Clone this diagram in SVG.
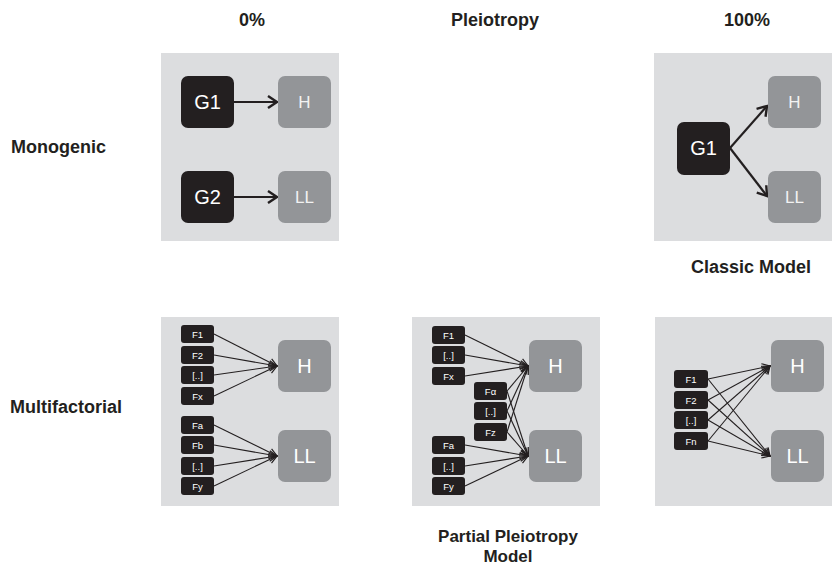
<svg xmlns="http://www.w3.org/2000/svg" width="832" height="568" viewBox="0 0 832 568">
<style>
.bg{fill:#ffffff}
.panel{fill:#dcdddf}
.dark{fill:#231f20}
.grey{fill:#939598}
.lbl{font-family:"Liberation Sans",Arial,sans-serif;font-weight:bold;font-size:18px;fill:#231f20}
.lbl2{font-family:"Liberation Sans",Arial,sans-serif;font-weight:bold;font-size:17px;fill:#231f20;text-anchor:middle}
.big{font-family:"Liberation Sans",Arial,sans-serif;font-size:20px;fill:#ffffff;text-anchor:middle}
.mid{font-family:"Liberation Sans",Arial,sans-serif;font-size:17px;fill:#f2f2f2;text-anchor:middle}
.sm{font-family:"Liberation Sans",Arial,sans-serif;font-size:9.5px;fill:#ffffff;text-anchor:middle}
.ct{text-anchor:middle}
.a1{stroke:#231f20;stroke-width:2.2;fill:none;marker-end:url(#ah1)}
.a2{stroke:#231f20;stroke-width:1.1;fill:none;marker-end:url(#ah2)}
</style>
<defs>
<marker id="ah1" markerUnits="userSpaceOnUse" markerWidth="14" markerHeight="16" viewBox="0 0 14 16" refX="11" refY="8" orient="auto">
<path d="M2,2 L11,8 L2,14" fill="none" stroke="#231f20" stroke-width="2.4" stroke-linejoin="miter"/>
</marker>
<marker id="ah2" markerUnits="userSpaceOnUse" markerWidth="12" markerHeight="12" viewBox="0 0 12 12" refX="10" refY="6" orient="auto">
<path d="M2,2 L10,6 L2,10" fill="none" stroke="#231f20" stroke-width="1.2"/>
</marker>
</defs>
<rect class="bg" x="0" y="0" width="832" height="568"/>

<g id="labels">
<text class="lbl ct" x="252" y="26">0%</text>
<text class="lbl ct" x="495" y="26">Pleiotropy</text>
<text class="lbl ct" x="747" y="26">100%</text>
<text class="lbl" x="11" y="153">Monogenic</text>
<text class="lbl" x="10" y="413">Multifactorial</text>
<text class="lbl ct" x="751" y="273">Classic Model</text>
<text class="lbl2" x="508" y="542">Partial Pleiotropy</text>
<text class="lbl2" x="508" y="562">Model</text>
</g>

<g id="panels">
<rect class="panel" x="161" y="53" width="178" height="188"/>
<rect class="panel" x="654" y="53" width="178" height="188"/>
<rect class="panel" x="161" y="317" width="178" height="189"/>
<rect class="panel" x="412" y="317" width="188" height="189"/>
<rect class="panel" x="655" y="317" width="177" height="189"/>
</g>

<g id="connectors">
<line class="a1" x1="234" y1="102" x2="277" y2="102"/>
<line class="a1" x1="234" y1="197" x2="277" y2="197"/>
<line class="a1" x1="730" y1="148" x2="767" y2="106"/>
<line class="a1" x1="730" y1="148" x2="767" y2="196"/>

<line class="a2" x1="214" y1="334" x2="277" y2="366"/>
<line class="a2" x1="214" y1="355" x2="277" y2="366"/>
<line class="a2" x1="214" y1="375" x2="277" y2="366"/>
<line class="a2" x1="214" y1="396" x2="277" y2="366"/>
<line class="a2" x1="214" y1="425" x2="277" y2="456"/>
<line class="a2" x1="214" y1="445" x2="277" y2="456"/>
<line class="a2" x1="214" y1="466" x2="277" y2="456"/>
<line class="a2" x1="214" y1="486" x2="277" y2="456"/>

<line class="a2" x1="465" y1="335" x2="528" y2="366"/>
<line class="a2" x1="465" y1="355" x2="528" y2="366"/>
<line class="a2" x1="465" y1="376" x2="528" y2="366"/>
<line class="a2" x1="507" y1="391" x2="528" y2="366"/>
<line class="a2" x1="507" y1="411" x2="528" y2="366"/>
<line class="a2" x1="507" y1="432" x2="528" y2="366"/>
<line class="a2" x1="507" y1="391" x2="528" y2="456"/>
<line class="a2" x1="507" y1="411" x2="528" y2="456"/>
<line class="a2" x1="507" y1="432" x2="528" y2="456"/>
<line class="a2" x1="465" y1="445" x2="528" y2="456"/>
<line class="a2" x1="465" y1="466" x2="528" y2="456"/>
<line class="a2" x1="465" y1="486" x2="528" y2="456"/>

<line class="a2" x1="708" y1="379" x2="770" y2="366"/>
<line class="a2" x1="708" y1="400" x2="770" y2="366"/>
<line class="a2" x1="708" y1="420" x2="770" y2="366"/>
<line class="a2" x1="708" y1="441" x2="770" y2="366"/>
<line class="a2" x1="708" y1="379" x2="770" y2="456"/>
<line class="a2" x1="708" y1="400" x2="770" y2="456"/>
<line class="a2" x1="708" y1="420" x2="770" y2="456"/>
<line class="a2" x1="708" y1="441" x2="770" y2="456"/>
</g>

<g id="tl-G1"><rect class="dark" x="181" y="76" width="53" height="52" rx="7"/><text class="big" x="207.5" y="109">G1</text></g>
<g id="tl-H"><rect class="grey" x="278" y="76" width="53" height="52" rx="7"/><text class="mid" x="304.5" y="108">H</text></g>
<g id="tl-G2"><rect class="dark" x="181" y="171" width="53" height="52" rx="7"/><text class="big" x="207.5" y="204">G2</text></g>
<g id="tl-LL"><rect class="grey" x="278" y="171" width="53" height="52" rx="7"/><text class="mid" x="304.5" y="203">LL</text></g>

<g id="tr-G1"><rect class="dark" x="677" y="122" width="53" height="53" rx="7"/><text class="big" x="703.5" y="155">G1</text></g>
<g id="tr-H"><rect class="grey" x="768" y="76" width="53" height="52" rx="7"/><text class="mid" x="794.5" y="108">H</text></g>
<g id="tr-LL"><rect class="grey" x="768" y="171" width="53" height="52" rx="7"/><text class="mid" x="794.5" y="203">LL</text></g>

<g id="bl-F1"><rect class="dark" x="181" y="325" width="33" height="18" rx="3"/><text class="sm" x="197.5" y="337.5">F1</text></g>
<g id="bl-F2"><rect class="dark" x="181" y="346" width="33" height="18" rx="3"/><text class="sm" x="197.5" y="358.5">F2</text></g>
<g id="bl-Fdots1"><rect class="dark" x="181" y="366" width="33" height="18" rx="3"/><text class="sm" x="197.5" y="378.5">[..]</text></g>
<g id="bl-Fx"><rect class="dark" x="181" y="387" width="33" height="18" rx="3"/><text class="sm" x="197.5" y="399.5">Fx</text></g>
<g id="bl-Fa"><rect class="dark" x="181" y="416" width="33" height="18" rx="3"/><text class="sm" x="197.5" y="428.5">Fa</text></g>
<g id="bl-Fb"><rect class="dark" x="181" y="436" width="33" height="18" rx="3"/><text class="sm" x="197.5" y="448.5">Fb</text></g>
<g id="bl-Fdots2"><rect class="dark" x="181" y="457" width="33" height="18" rx="3"/><text class="sm" x="197.5" y="469.5">[..]</text></g>
<g id="bl-Fy"><rect class="dark" x="181" y="477" width="33" height="18" rx="3"/><text class="sm" x="197.5" y="489.5">Fy</text></g>
<g id="bl-H"><rect class="grey" x="278" y="340" width="53" height="52" rx="7"/><text class="big" x="304.5" y="373">H</text></g>
<g id="bl-LL"><rect class="grey" x="278" y="430" width="53" height="52" rx="7"/><text class="big" x="304.5" y="463">LL</text></g>

<g id="bm-F1"><rect class="dark" x="432" y="326" width="33" height="18" rx="3"/><text class="sm" x="448.5" y="338.5">F1</text></g>
<g id="bm-Fdots1"><rect class="dark" x="432" y="346" width="33" height="18" rx="3"/><text class="sm" x="448.5" y="358.5">[..]</text></g>
<g id="bm-Fx"><rect class="dark" x="432" y="367" width="33" height="18" rx="3"/><text class="sm" x="448.5" y="379.5">Fx</text></g>
<g id="bm-Falpha"><rect class="dark" x="474" y="382" width="33" height="18" rx="3"/><text class="sm" x="490.5" y="394.5">Fα</text></g>
<g id="bm-Fdots2"><rect class="dark" x="474" y="402" width="33" height="18" rx="3"/><text class="sm" x="490.5" y="414.5">[..]</text></g>
<g id="bm-Fz"><rect class="dark" x="474" y="423" width="33" height="18" rx="3"/><text class="sm" x="490.5" y="435.5">Fz</text></g>
<g id="bm-Fa"><rect class="dark" x="432" y="436" width="33" height="18" rx="3"/><text class="sm" x="448.5" y="448.5">Fa</text></g>
<g id="bm-Fdots3"><rect class="dark" x="432" y="457" width="33" height="18" rx="3"/><text class="sm" x="448.5" y="469.5">[..]</text></g>
<g id="bm-Fy"><rect class="dark" x="432" y="477" width="33" height="18" rx="3"/><text class="sm" x="448.5" y="489.5">Fy</text></g>
<g id="bm-H"><rect class="grey" x="529" y="340" width="53" height="52" rx="7"/><text class="big" x="555.5" y="373">H</text></g>
<g id="bm-LL"><rect class="grey" x="529" y="430" width="53" height="52" rx="7"/><text class="big" x="555.5" y="463">LL</text></g>

<g id="br-F1"><rect class="dark" x="674" y="370" width="34" height="18" rx="3"/><text class="sm" x="691" y="382.5">F1</text></g>
<g id="br-F2"><rect class="dark" x="674" y="391" width="34" height="18" rx="3"/><text class="sm" x="691" y="403.5">F2</text></g>
<g id="br-Fdots"><rect class="dark" x="674" y="411" width="34" height="18" rx="3"/><text class="sm" x="691" y="423.5">[..]</text></g>
<g id="br-Fn"><rect class="dark" x="674" y="432" width="34" height="18" rx="3"/><text class="sm" x="691" y="444.5">Fn</text></g>
<g id="br-H"><rect class="grey" x="771" y="340" width="53" height="52" rx="7"/><text class="big" x="797.5" y="373">H</text></g>
<g id="br-LL"><rect class="grey" x="771" y="430" width="53" height="52" rx="7"/><text class="big" x="797.5" y="463">LL</text></g>
</svg>
